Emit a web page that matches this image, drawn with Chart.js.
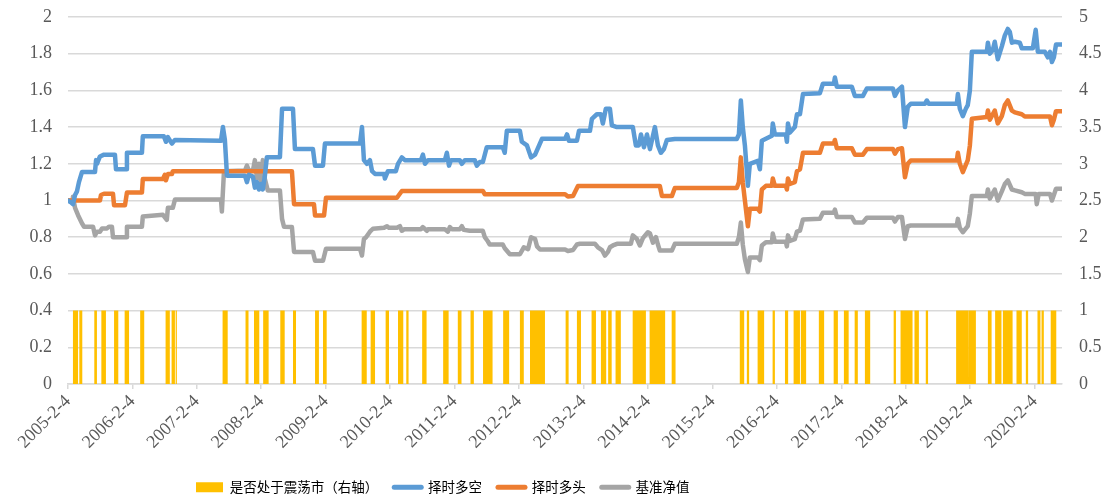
<!DOCTYPE html>
<html><head><meta charset="utf-8">
<script src="https://cdn.jsdelivr.net/npm/chart.js@4.4.0/dist/chart.umd.min.js"></script>
<style>html,body{margin:0;padding:0;background:#fff;}#wrap{width:1113px;height:504px;}</style>
</head><body><div id="wrap"><canvas id="c" width="1113" height="504"></canvas></div>
<script>
const seriesNames = ['是否处于震荡市（右轴）', '择时多空', '择时多头', '基准净值'];
const axisStart = '2005-02-04';
const axisEnd = '2020-07-08';
const xTickDates = ['2005-02-04','2006-02-04','2007-02-04','2008-02-04','2009-02-04','2010-02-04','2011-02-04','2012-02-04','2013-02-04','2014-02-04','2015-02-04','2016-02-04','2017-02-04','2018-02-04','2019-02-04','2020-02-04'];
const xTickLabels = ['2005-2-4','2006-2-4','2007-2-4','2008-2-4','2009-2-4','2010-2-4','2011-2-4','2012-2-4','2013-2-4','2014-2-4','2015-2-4','2016-2-4','2017-2-4','2018-2-4','2019-2-4','2020-2-4'];
const leftTicks = [0,0.2,0.4,0.6,0.8,1,1.2,1.4,1.6,1.8,2];
const rightTicks = [0,0.5,1,1.5,2,2.5,3,3.5,4,4.5,5];

// 择时多空
const longShortDates = ['2005-02-04','2005-02-21','2005-03-04','2005-03-16','2005-03-27','2005-04-07','2005-04-24','2005-07-07','2005-07-13','2005-07-18','2005-08-04','2005-08-27','2005-10-28','2005-11-03','2005-12-30','2006-01-04','2006-03-30','2006-04-04','2006-08-01','2006-08-13','2006-08-24','2006-09-16','2006-10-03','2007-06-21','2007-07-02','2007-07-13','2007-07-25','2007-11-04','2007-11-15','2007-11-26','2007-12-19','2007-12-30','2008-01-11','2008-01-22','2008-02-02','2008-02-13','2008-02-24','2008-03-07','2008-05-20','2008-06-01','2008-08-02','2008-08-13','2008-11-23','2008-12-05','2009-01-19','2009-01-30','2009-08-17','2009-08-28','2009-09-08','2009-09-25','2009-10-12','2009-10-24','2009-11-10','2009-12-31','2010-01-05','2010-01-22','2010-03-08','2010-03-20','2010-04-11','2010-04-28','2010-07-28','2010-08-08','2010-08-20','2010-09-06','2010-12-11','2010-12-22','2011-01-03','2011-01-14','2011-03-05','2011-03-17','2011-04-03','2011-05-29','2011-06-10','2011-06-27','2011-07-14','2011-08-05','2011-11-04','2011-11-15','2011-11-27','2012-02-09','2012-02-20','2012-03-20','2012-04-12','2012-05-05','2012-06-13','2012-10-22','2012-11-02','2012-11-13','2012-12-28','2013-01-09','2013-03-12','2013-03-23','2013-04-20','2013-05-13','2013-05-24','2013-06-10','2013-07-03','2013-07-14','2013-08-12','2013-11-10','2013-11-27','2013-12-14','2013-12-26','2014-01-12','2014-01-29','2014-02-15','2014-03-15','2014-04-01','2014-04-18','2014-05-05','2014-05-22','2014-07-06','2015-06-22','2015-07-04','2015-07-15','2015-07-26','2015-08-07','2015-08-24','2015-09-04','2015-10-19','2015-10-31','2015-11-11','2016-01-07','2016-01-12','2016-01-24','2016-03-26','2016-04-01','2016-04-07','2016-04-18','2016-05-16','2016-05-28','2016-06-14','2016-07-01','2016-10-05','2016-10-22','2016-12-23','2016-12-29','2017-01-09','2017-04-04','2017-04-21','2017-06-06','2017-06-28','2017-11-23','2017-12-04','2017-12-21','2018-01-13','2018-01-30','2018-02-15','2018-03-04','2018-05-23','2018-06-03','2018-06-14','2018-11-20','2018-11-26','2018-12-07','2018-12-24','2019-01-10','2019-01-21','2019-02-02','2019-02-13','2019-05-09','2019-05-15','2019-05-26','2019-06-12','2019-06-23','2019-07-10','2019-08-02','2019-08-19','2019-09-05','2019-09-16','2019-09-28','2019-10-15','2019-11-12','2019-11-23','2020-01-25','2020-02-10','2020-02-22','2020-04-02','2020-04-19','2020-05-01','2020-05-12','2020-05-23','2020-06-04','2020-07-08'];
const longShortValues = [1.00,0.99,0.98,1.03,1.05,1.10,1.155,1.155,1.22,1.20,1.24,1.25,1.25,1.17,1.17,1.26,1.26,1.35,1.35,1.32,1.345,1.31,1.33,1.325,1.40,1.33,1.135,1.135,1.10,1.14,1.13,1.07,1.10,1.06,1.09,1.06,1.13,1.236,1.236,1.50,1.50,1.28,1.28,1.19,1.19,1.31,1.31,1.40,1.22,1.20,1.22,1.16,1.145,1.145,1.12,1.16,1.16,1.20,1.235,1.22,1.22,1.25,1.20,1.22,1.22,1.26,1.19,1.22,1.22,1.20,1.22,1.22,1.19,1.21,1.21,1.29,1.29,1.26,1.38,1.38,1.32,1.30,1.235,1.25,1.336,1.336,1.36,1.325,1.325,1.38,1.38,1.445,1.47,1.47,1.42,1.50,1.50,1.41,1.40,1.40,1.30,1.30,1.36,1.29,1.36,1.28,1.40,1.30,1.26,1.28,1.33,1.335,1.335,1.36,1.545,1.40,1.30,1.08,1.20,1.216,1.17,1.326,1.353,1.42,1.36,1.36,1.32,1.42,1.37,1.40,1.47,1.47,1.58,1.585,1.636,1.636,1.67,1.62,1.62,1.57,1.57,1.61,1.61,1.57,1.60,1.62,1.40,1.51,1.527,1.527,1.545,1.527,1.527,1.58,1.50,1.46,1.50,1.52,1.60,1.81,1.81,1.86,1.80,1.82,1.865,1.77,1.84,1.90,1.935,1.92,1.86,1.865,1.86,1.83,1.83,1.93,1.81,1.81,1.78,1.81,1.755,1.78,1.85,1.85];

// 择时多头
const longOnlyDates = ['2005-02-04','2005-08-04','2005-08-10','2005-08-27','2005-10-17','2005-10-23','2005-12-24','2006-01-04','2006-03-30','2006-04-04','2006-07-27','2006-08-07','2006-08-13','2006-08-24','2006-09-16','2006-09-21','2008-07-27','2008-08-08','2008-11-29','2008-12-05','2009-01-25','2009-02-05','2010-03-14','2010-04-11','2011-07-14','2011-07-25','2012-10-22','2012-11-07','2012-12-06','2013-01-03','2014-04-12','2014-04-24','2014-06-19','2014-07-06','2015-06-22','2015-07-04','2015-07-15','2015-07-26','2015-08-07','2015-08-24','2015-09-04','2015-10-19','2015-10-31','2015-11-11','2015-12-04','2016-01-07','2016-01-12','2016-01-24','2016-03-26','2016-04-01','2016-04-07','2016-04-18','2016-05-16','2016-05-28','2016-06-14','2016-07-01','2016-10-05','2016-10-22','2016-12-23','2016-12-29','2017-01-09','2017-04-04','2017-04-21','2017-06-06','2017-06-28','2017-11-23','2017-12-04','2017-12-21','2018-01-13','2018-01-30','2018-02-15','2018-03-04','2018-11-20','2018-11-26','2018-12-07','2018-12-24','2019-01-21','2019-02-02','2019-02-13','2019-05-09','2019-05-15','2019-05-26','2019-06-23','2019-07-10','2019-08-02','2019-08-19','2019-09-05','2019-09-28','2019-10-15','2019-11-23','2019-12-10','2020-05-01','2020-05-12','2020-05-23','2020-06-04','2020-07-08'];
const longOnlyValues = [1.00,1.00,1.03,1.037,1.037,0.974,0.974,1.043,1.043,1.117,1.117,1.14,1.11,1.144,1.144,1.16,1.16,0.98,0.98,0.918,0.918,1.015,1.015,1.052,1.052,1.034,1.034,1.022,1.025,1.079,1.079,1.024,1.024,1.068,1.068,1.10,1.235,1.10,1.00,0.86,0.955,0.955,0.94,1.06,1.08,1.08,1.12,1.08,1.08,1.06,1.12,1.09,1.10,1.16,1.17,1.26,1.26,1.31,1.31,1.33,1.285,1.285,1.25,1.25,1.28,1.28,1.255,1.28,1.285,1.127,1.20,1.218,1.218,1.26,1.20,1.155,1.22,1.30,1.445,1.455,1.49,1.44,1.49,1.42,1.46,1.52,1.545,1.49,1.48,1.47,1.458,1.458,1.41,1.44,1.487,1.487];

// 基准净值
const benchDates = ['2005-02-04','2005-02-27','2005-03-04','2005-03-16','2005-04-02','2005-04-24','2005-05-06','2005-06-26','2005-07-07','2005-07-18','2005-08-04','2005-08-16','2005-09-13','2005-09-24','2005-10-11','2005-10-17','2005-12-30','2006-01-04','2006-03-30','2006-04-04','2006-07-27','2006-08-18','2006-08-24','2006-09-21','2006-10-03','2007-06-21','2007-06-26','2007-07-08','2007-11-04','2007-11-15','2007-11-26','2007-12-19','2007-12-30','2008-01-11','2008-01-22','2008-02-02','2008-02-13','2008-02-24','2008-03-12','2008-05-20','2008-06-01','2008-06-12','2008-07-27','2008-08-08','2008-11-23','2008-12-05','2009-01-19','2009-02-05','2009-08-17','2009-08-28','2009-09-08','2009-09-20','2009-10-12','2009-10-29','2009-12-31','2010-01-17','2010-01-28','2010-03-14','2010-03-31','2010-04-11','2010-04-23','2010-07-28','2010-08-08','2010-08-31','2010-09-06','2010-12-11','2010-12-28','2011-01-08','2011-01-20','2011-03-05','2011-03-17','2011-03-28','2011-05-01','2011-07-14','2011-07-25','2011-08-11','2011-08-22','2011-11-04','2011-11-15','2011-12-14','2012-02-09','2012-03-02','2012-03-26','2012-04-12','2012-05-05','2012-05-16','2012-06-02','2012-10-22','2012-11-07','2012-12-06','2012-12-28','2013-01-14','2013-04-09','2013-04-26','2013-05-19','2013-06-05','2013-06-22','2013-07-03','2013-07-20','2013-08-12','2013-10-30','2013-11-10','2013-12-03','2013-12-20','2014-01-06','2014-02-03','2014-02-15','2014-03-04','2014-03-21','2014-04-01','2014-04-12','2014-06-19','2014-07-06','2015-06-22','2015-07-04','2015-07-15','2015-07-26','2015-08-07','2015-08-24','2015-09-04','2015-10-19','2015-10-31','2015-11-11','2015-12-04','2016-01-07','2016-01-12','2016-01-24','2016-03-26','2016-04-01','2016-04-07','2016-04-18','2016-05-16','2016-05-28','2016-06-14','2016-07-01','2016-10-05','2016-10-22','2016-12-23','2016-12-29','2017-01-09','2017-04-04','2017-04-21','2017-06-06','2017-06-28','2017-11-23','2017-12-04','2017-12-21','2018-01-13','2018-01-30','2018-02-15','2018-03-04','2018-11-20','2018-11-26','2018-12-07','2018-12-24','2019-01-21','2019-02-02','2019-02-13','2019-05-09','2019-05-15','2019-05-26','2019-06-23','2019-07-10','2019-08-02','2019-08-19','2019-09-05','2019-09-28','2019-10-15','2019-11-23','2019-12-10','2020-02-10','2020-02-16','2020-02-27','2020-05-01','2020-05-12','2020-05-23','2020-06-04','2020-07-08'];
const benchValues = [1.00,1.00,1.02,0.96,0.92,0.876,0.857,0.857,0.81,0.83,0.83,0.848,0.848,0.857,0.857,0.80,0.80,0.857,0.857,0.913,0.922,0.895,0.96,0.96,1.005,1.005,0.94,1.16,1.163,1.19,1.163,1.163,1.22,1.12,1.20,1.10,1.22,1.12,1.055,1.055,0.90,0.857,0.855,0.72,0.72,0.672,0.672,0.737,0.737,0.70,0.79,0.80,0.83,0.846,0.851,0.86,0.851,0.851,0.86,0.835,0.843,0.843,0.855,0.835,0.843,0.843,0.83,0.855,0.843,0.843,0.86,0.84,0.835,0.835,0.80,0.778,0.76,0.76,0.74,0.707,0.707,0.745,0.735,0.80,0.79,0.75,0.733,0.733,0.725,0.73,0.76,0.764,0.764,0.745,0.73,0.70,0.72,0.745,0.755,0.764,0.764,0.81,0.79,0.755,0.795,0.827,0.82,0.77,0.80,0.76,0.727,0.727,0.764,0.764,0.80,0.88,0.76,0.68,0.61,0.69,0.69,0.675,0.755,0.773,0.773,0.82,0.775,0.775,0.75,0.81,0.78,0.79,0.83,0.836,0.897,0.90,0.933,0.933,0.95,0.91,0.91,0.88,0.88,0.906,0.906,0.885,0.91,0.91,0.79,0.86,0.864,0.864,0.90,0.85,0.827,0.86,0.93,1.025,1.025,1.06,1.01,1.06,1.00,1.05,1.09,1.11,1.06,1.055,1.045,1.036,1.036,0.98,1.036,1.036,1.00,1.03,1.064,1.064];

// 是否处于震荡市：value 1 between start and end
const rangeStart = ['2005-03-03','2005-04-09','2005-07-03','2005-08-12','2005-10-23','2005-12-22','2006-03-20','2006-08-11','2006-09-14','2006-10-07','2007-06-30','2007-11-07','2007-12-25','2008-02-15','2008-05-22','2008-08-02','2008-12-05','2009-01-19','2009-08-26','2009-10-16','2010-01-09','2010-03-20','2010-05-06','2010-08-04','2010-12-01','2011-02-22','2011-05-05','2011-07-15','2011-11-06','2012-02-09','2012-04-06','2012-10-25','2012-12-28','2013-03-21','2013-05-13','2013-06-23','2013-08-04','2013-11-09','2014-02-13','2014-06-18','2015-07-09','2015-08-18','2015-10-18','2016-01-11','2016-03-21','2016-05-09','2016-06-19','2016-09-29','2016-12-22','2017-02-18','2017-04-20','2017-06-17','2017-11-27','2018-01-05','2018-03-25','2018-05-28','2018-11-16','2019-01-25','2019-05-15','2019-06-25','2019-08-08','2019-10-24','2019-12-16','2020-02-20','2020-03-14','2020-05-05'];
const rangeEnd = ['2005-04-02','2005-04-26','2005-07-18','2005-09-07','2005-11-16','2006-01-16','2006-04-12','2006-09-04','2006-10-03','2006-10-14','2007-07-29','2007-11-24','2008-01-24','2008-03-17','2008-06-16','2008-08-19','2008-12-27','2009-02-09','2009-09-24','2009-11-10','2010-01-28','2010-04-19','2010-05-19','2010-08-29','2011-01-01','2011-03-15','2011-05-24','2011-09-07','2011-12-10','2012-03-02','2012-06-30','2012-11-11','2013-01-20','2013-04-15','2013-06-12','2013-07-13','2013-09-03','2014-01-23','2014-05-12','2014-07-10','2015-08-03','2015-08-31','2015-11-24','2016-01-24','2016-04-08','2016-06-14','2016-07-19','2016-10-29','2017-01-15','2017-03-17','2017-05-08','2017-07-17','2017-12-10','2018-03-14','2018-04-19','2018-06-10','2019-01-23','2019-03-08','2019-06-05','2019-07-31','2019-10-02','2019-11-23','2019-12-29','2020-03-08','2020-03-27','2020-06-07'];

const colors = ['#FFC000', '#5B9BD5', '#ED7D31', '#A5A5A5'];
const gridColor = '#D9D9D9';
const textColor = '#595959';
const serif = '"Liberation Serif", "Times New Roman", serif';

const toX = d => Date.parse(d);
const pts = (ds, vs) => ds.map((d, i) => ({x: toX(d), y: vs[i]}));
const rangePts = [];
rangeStart.forEach((s, i) => {
  const e = rangeEnd[i];
  rangePts.push({x: toX(s), y: 0}, {x: toX(s), y: 1}, {x: toX(e), y: 1}, {x: toX(e), y: 0});
});

const lineDs = (i, data) => ({
  label: seriesNames[i], data, yAxisID: 'y', borderColor: colors[i], backgroundColor: colors[i],
  borderWidth: 4.5, pointRadius: 0, fill: false, tension: 0, order: i,
  borderJoinStyle: 'round', borderCapStyle: 'round'
});

const legendShift = {
  id: 'legendShift',
  afterLayout(chart) { chart.legend.left = 180; }
};

const fitY = (width) => s => { s.width = width; s.paddingTop = 0; s.paddingBottom = 0; };

new Chart(document.getElementById('c'), {
  type: 'line',
  data: {
    datasets: [
      { label: seriesNames[0], data: rangePts, yAxisID: 'y1', borderColor: 'rgba(0,0,0,0)', borderWidth: 0,
        backgroundColor: colors[0], fill: 'origin', pointRadius: 0, tension: 0, order: 10 },
      lineDs(1, pts(longShortDates, longShortValues)),
      lineDs(2, pts(longOnlyDates, longOnlyValues)),
      lineDs(3, pts(benchDates, benchValues))
    ]
  },
  plugins: [legendShift],
  options: {
    responsive: false, animation: false, devicePixelRatio: 1, events: [],
    layout: { padding: { top: 17, left: 0, right: 0, bottom: 0 } },
    scales: {
      x: {
        type: 'linear', min: toX(axisStart), max: toX(axisEnd),
        afterBuildTicks: s => { s.ticks = xTickDates.map(d => ({value: toX(d)})); },
        ticks: { autoSkip: false, minRotation: 45, maxRotation: 45, padding: 2, color: textColor,
          font: { family: serif, size: 18 }, callback: (v, i) => xTickLabels[i] },
        grid: { display: true, drawOnChartArea: false, drawTicks: true, tickLength: 5, color: gridColor, lineWidth: 1.5 },
        border: { display: true, color: gridColor, width: 1.5 },
        afterFit: s => { s.height = 80.5; s.paddingLeft = 0; s.paddingRight = 0; }
      },
      y: {
        position: 'left', min: 0, max: 2,
        afterBuildTicks: s => { s.ticks = leftTicks.map(v => ({value: v})); },
        ticks: { padding: 16, color: textColor, font: { family: serif, size: 18 }, callback: v => String(Math.round(v * 10) / 10) },
        grid: { color: gridColor, lineWidth: 1.5, drawTicks: false },
        border: { display: false },
        afterFit: fitY(68)
      },
      y1: {
        position: 'right', min: 0, max: 5,
        afterBuildTicks: s => { s.ticks = rightTicks.map(v => ({value: v})); },
        ticks: { padding: 17, color: textColor, font: { family: serif, size: 18 }, callback: v => String(Math.round(v * 10) / 10) },
        grid: { drawOnChartArea: false, drawTicks: false },
        border: { display: false },
        afterFit: fitY(51)
      }
    },
    plugins: {
      tooltip: { enabled: false },
      legend: {
        position: 'bottom', align: 'start',
        labels: {
          usePointStyle: true, pointStyleWidth: 27, boxHeight: 10, padding: 16, color: textColor,
          font: { family: '"Noto Sans CJK SC", sans-serif', size: 13.5 },
          generateLabels: chart => chart.data.datasets.map((ds, i) => ({
            text: ds.label, fillStyle: colors[i], strokeStyle: colors[i],
            lineWidth: i === 0 ? 0 : 5, lineCap: 'round',
            pointStyle: i === 0 ? 'rect' : 'line', datasetIndex: i, hidden: false
          }))
        }
      }
    }
  }
});
</script></body></html>
